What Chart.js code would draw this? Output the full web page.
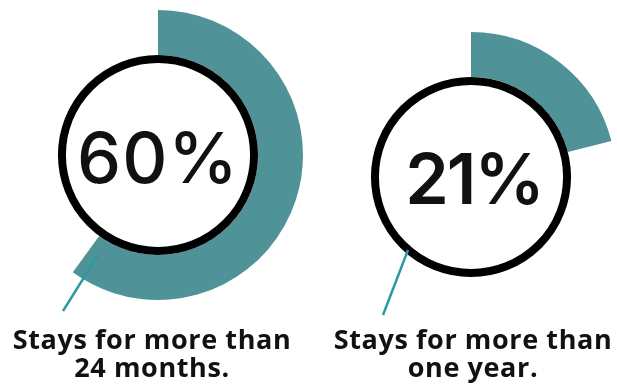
<!DOCTYPE html>
<html>
<head>
<meta charset="utf-8">
<script src="https://cdn.jsdelivr.net/npm/chart.js@4.4.0/dist/chart.umd.min.js"></script>
<style>
  body{margin:0;background:#fff;width:617px;height:385px;overflow:hidden;position:relative;font-family:"Open Sans",sans-serif;}
  canvas{position:absolute;}
  .pct{position:absolute;width:200px;text-align:center;font-family:Inter,"Noto Sans",sans-serif;font-size:70px;color:#111;line-height:1;}
  .lbl{position:absolute;width:320px;text-align:center;font-family:"Open Sans",sans-serif;font-weight:700;font-size:27px;letter-spacing:0.6px;line-height:28px;color:#111;}
  svg{position:absolute;left:0;top:0;}
</style>
</head>
<body>
<canvas id="c1" width="290" height="290" style="left:13px;top:10px"></canvas>
<canvas id="c2" width="290" height="290" style="left:326px;top:32px"></canvas>
<svg width="617" height="385">
  <line x1="98" y1="255" x2="63" y2="311" stroke="#2a9aa0" stroke-width="2.5"/>
  <line x1="408" y1="250" x2="383" y2="315" stroke="#2a9aa0" stroke-width="2.5"/>
</svg>
<div class="pct" id="p1" style="left:58px;top:123px;font-weight:500;letter-spacing:1px"></div>
<div class="pct" id="p2" style="left:374px;top:144px;font-weight:600;letter-spacing:-2px"></div>
<div class="lbl" id="l1" style="left:-8px;top:325px"></div>
<div class="lbl" id="l2" style="left:313px;top:325px"></div>
<script>
const shares = [60, 21];
const labels = [["Stays for more than", "24 months."], ["Stays for more than", "one year."]];
const teal = "#4f9399";

const innerCircle = {
  id: "innerCircle",
  afterDatasetsDraw(chart) {
    const arc = chart.getDatasetMeta(0).data[0];
    const ctx = chart.ctx;
    ctx.save();
    ctx.beginPath();
    ctx.arc(arc.x, arc.y, arc.innerRadius - 4, 0, Math.PI * 2);
    ctx.fillStyle = "#fff";
    ctx.fill();
    ctx.lineWidth = 8;
    ctx.strokeStyle = "#000";
    ctx.stroke();
    ctx.restore();
  }
};

function drawRing(id, value) {
  new Chart(document.getElementById(id), {
    type: "doughnut",
    data: {
      labels: ["yes", "rest"],
      datasets: [{
        data: [value, 100 - value],
        backgroundColor: [teal, "rgba(0,0,0,0)"],
        borderWidth: 0
      }]
    },
    options: {
      responsive: false,
      animation: false,
      cutout: "69%",
      layout: {padding: 0},
      plugins: {legend: {display: false}, tooltip: {enabled: false}}
    },
    plugins: [innerCircle]
  });
}

drawRing("c1", shares[0]);
drawRing("c2", shares[1]);
document.getElementById("p1").textContent = shares[0] + "%";
document.getElementById("p2").textContent = shares[1] + "%";
document.getElementById("l1").innerHTML = labels[0].join("<br>");
document.getElementById("l2").innerHTML = labels[1].join("<br>");
</script>
</body>
</html>
